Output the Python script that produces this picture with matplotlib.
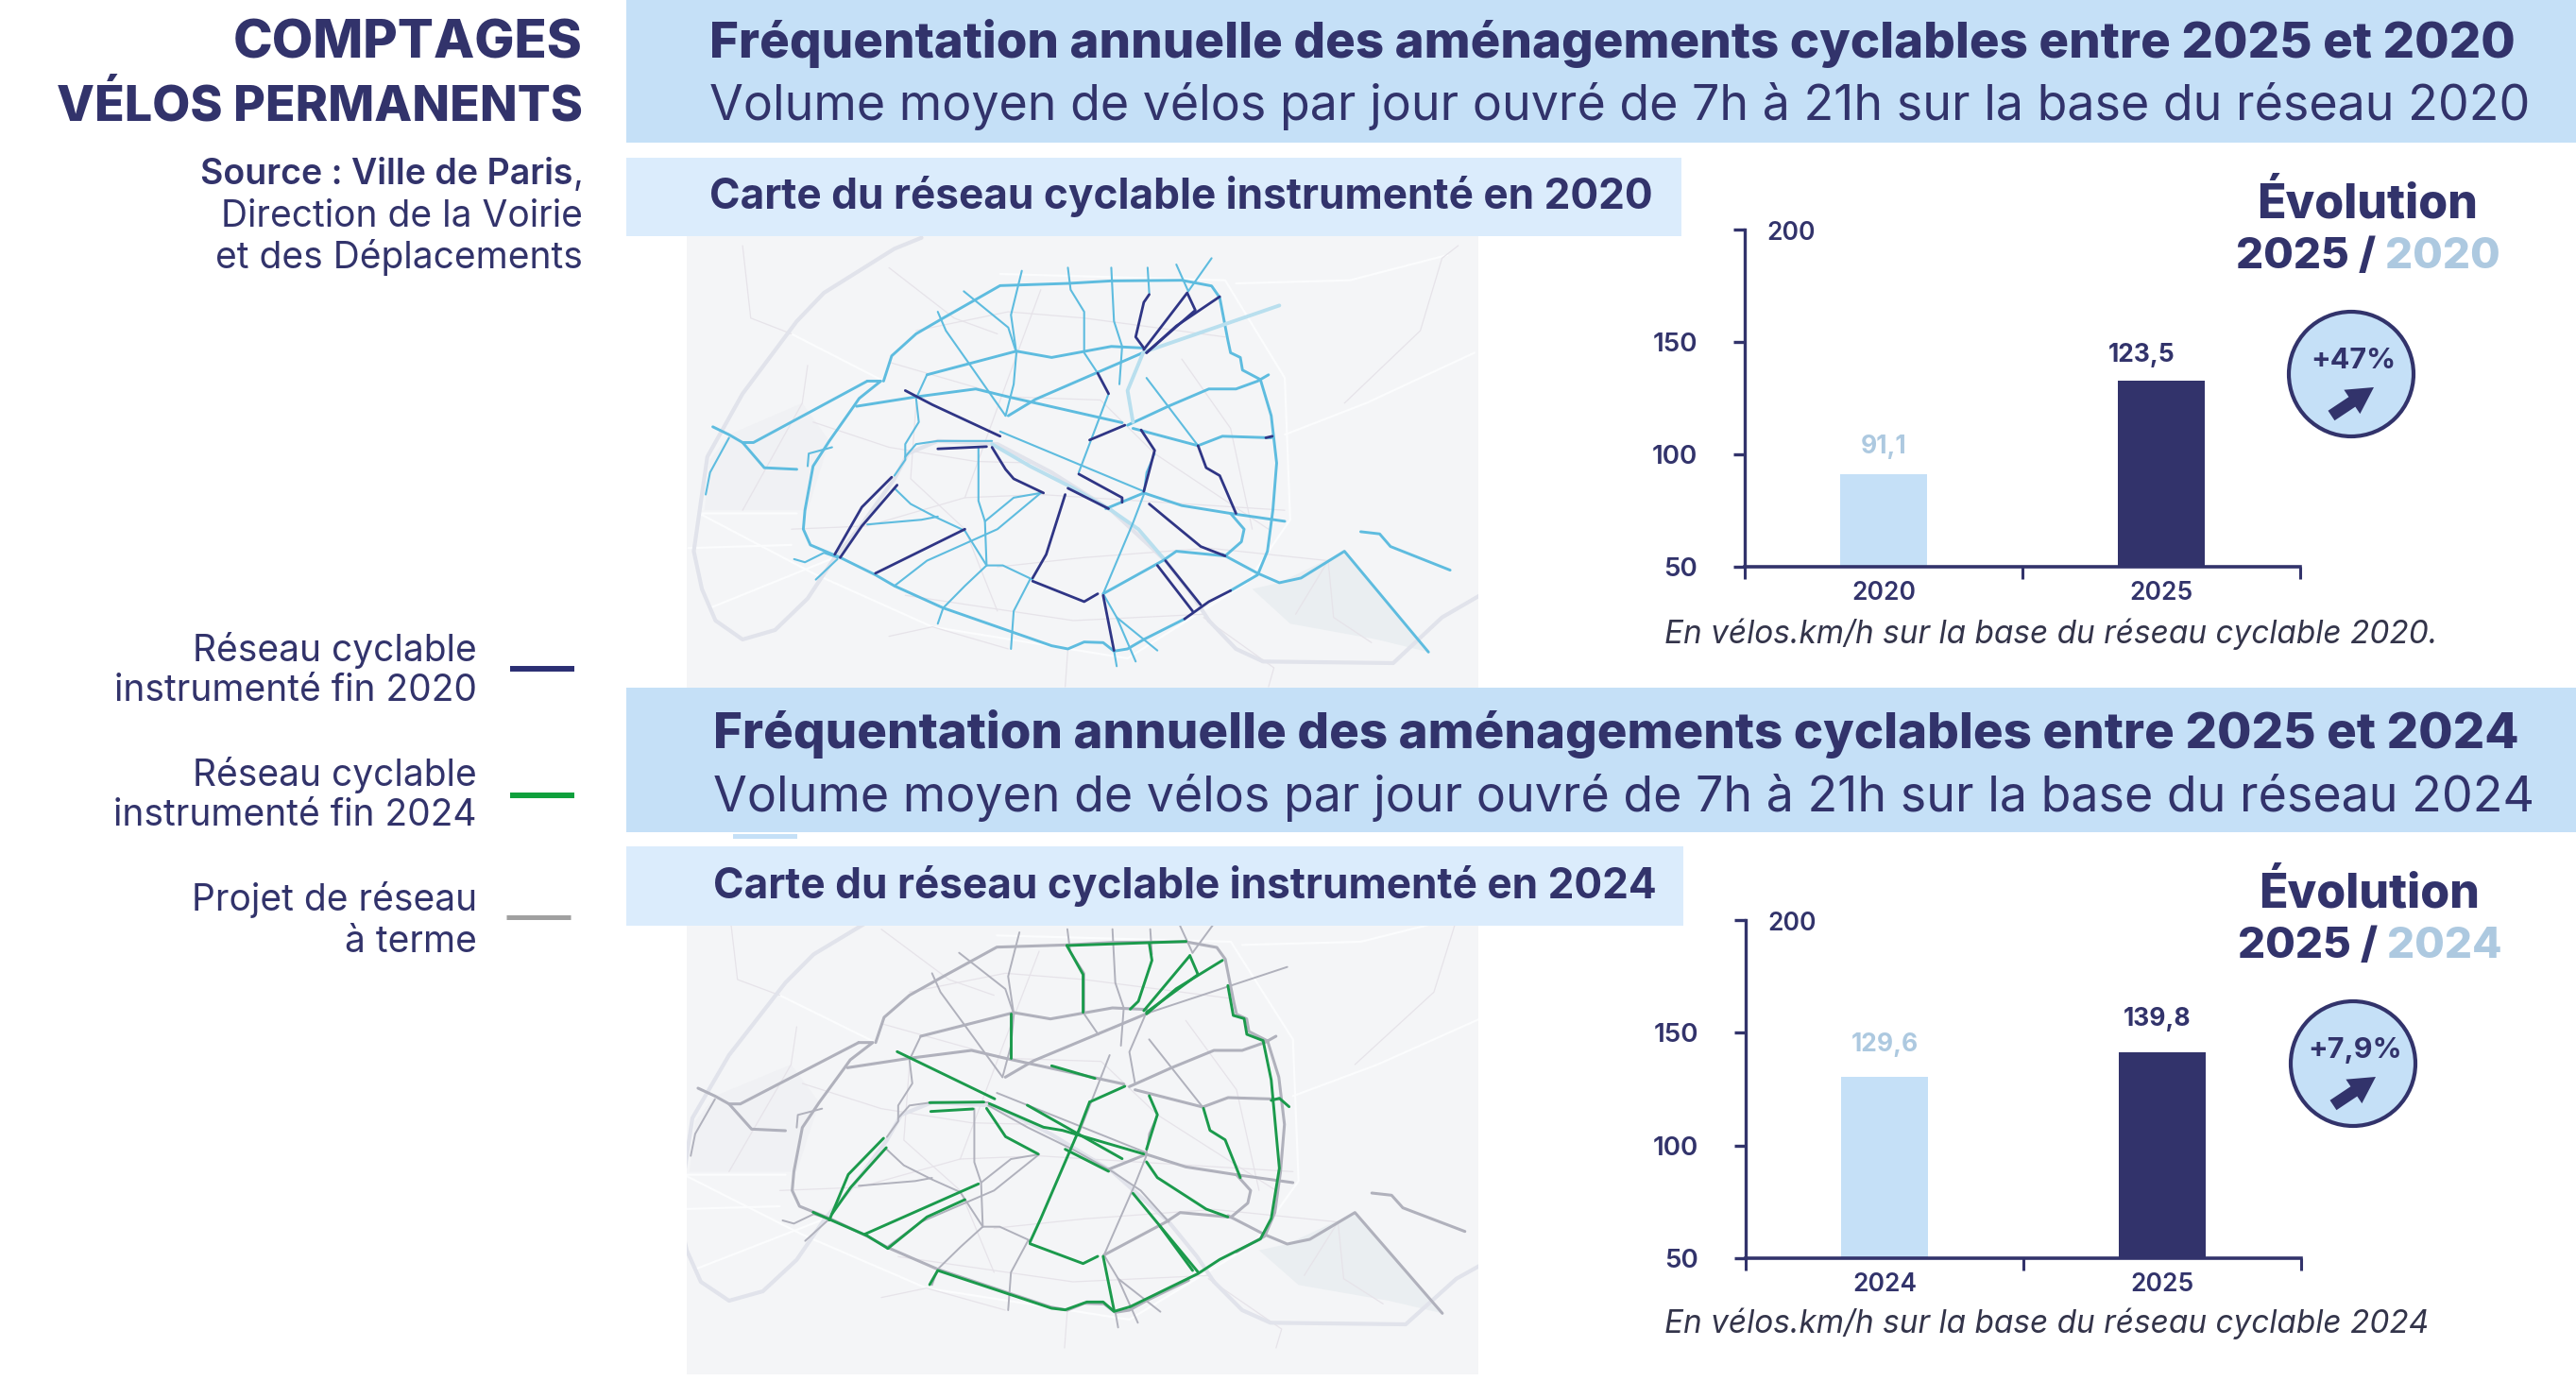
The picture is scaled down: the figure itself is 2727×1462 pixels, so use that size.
import numpy as np
import matplotlib
matplotlib.use("Agg")
import matplotlib.pyplot as plt
from matplotlib.patches import Rectangle, Circle, FancyArrowPatch, Polygon

plt.rcParams['font.family'] = ['Inter', 'DejaVu Sans']

W, H = 2727, 1462
NAVY = '#32336b'
BAND = '#c5e0f7'
BAND2 = '#dbecfc'
PALE = '#adc9e0'

# chart data
years_a = ['2020', '2025']
bars_a = [91.1, 132.8]
labels_a = ['91,1', '123,5']
years_b = ['2024', '2025']
bars_b = [130.6, 141.3]
labels_b = ['129,6', '139,8']
yticks = [50, 100, 150, 200]

light_routes = [
    [(410,490),(425,410),(470,340),(520,290),(625,187),(750,180),(830,172),(960,170),(1015,188),(1030,225),(1045,360),(1050,400),(1068,415),(1072,455),(1105,485),(1125,600),(1135,750),(1128,900),(1118,1030),(1100,1105),(1050,1155)],
    [(965,1245),(890,1310),(860,1340),(835,1347),(815,1320),(780,1318),(750,1340),(720,1330),(520,1210),(430,1140),(395,1105),(330,1050),(275,1010),(262,960),(265,900),(280,760),(310,680),(355,570),(365,545),(405,490),(380,490)],
    [(380,490),(170,685),(150,685),(125,660),(95,635)],
    [(125,670),(90,780),(82,850)],
    [(150,685),(190,765),(250,770)],
    [(270,760),(272,720),(315,700)],
    [(360,570),(470,540),(580,515),(640,540),(850,622)],
    [(490,470),(655,395),(720,415),(830,380),(890,385)],
    [(895,395),(690,548),(640,600)],
    [(895,395),(1140,250)],
    [(860,630),(935,570),(1010,515),(1060,515),(1100,490),(1120,470)],
    [(870,640),(990,695),(1035,665),(1125,670)],
    [(895,480),(990,695)],
    [(890,395),(860,520),(870,620)],
    [(665,140),(645,280),(655,400),(650,500),(635,600)],
    [(750,130),(755,200),(780,270),(780,400),(805,465)],
    [(830,130),(835,300),(850,380),(845,500)],
    [(897,130),(900,210)],
    [(950,120),(972,205)],
    [(1015,100),(972,205)],
    [(558,205),(640,320),(655,400)],
    [(510,270),(525,330),(570,440),(635,600)],
    [(490,470),(470,545),(475,620),(450,690),(450,740),(430,790)],
    [(450,730),(470,690),(510,680),(610,680)],
    [(625,650),(890,840)],
    [(610,690),(680,760),(760,830),(830,900),(880,960),(930,1060)],
    [(585,700),(585,870),(597,935),(600,1075)],
    [(430,830),(460,880),(510,925),(560,965),(600,1075)],
    [(380,945),(480,930),(510,920)],
    [(430,1140),(490,1060),(620,960),(700,845)],
    [(825,530),(770,780)],
    [(597,935),(650,860),(700,845)],
    [(820,895),(890,845),(960,885),(1050,910),(1150,935)],
    [(890,850),(870,940),(815,1165)],
    [(815,1165),(925,1060),(950,1030),(1040,1045),(1070,1000),(1075,960),(1050,910)],
    [(1035,1040),(1100,1100),(1140,1130),(1180,1115),(1260,1030),(1415,1350)],
    [(1290,968),(1325,975),(1345,1015),(1455,1090)],
    [(815,1165),(840,1240),(875,1380)],
    [(840,1240),(915,1345)],
    [(680,1120),(650,1220),(645,1340)],
    [(600,1075),(630,1075),(685,1120)],
    [(510,1260),(520,1210),(560,1140),(600,1075)],
    [(245,1055),(265,1065),(300,1035),(325,1050)],
    [(325,1055),(285,1120)],
    [(890,845),(895,780),(910,720)],
    [(835,1345),(840,1395)],
]
main_routes = [0, 1, 2, 4, 6, 7, 8, 10, 11, 32, 34, 35, 36]
pale_routes = [9, 13, 25]
dark_routes = [
    [(450,520),(500,565),(625,665)],
    [(510,705),(600,698)],
    [(610,700),(635,770),(650,800),(705,845)],
    [(770,785),(850,860),(850,875)],
    [(750,830),(825,895)],
    [(425,795),(370,890),(320,1040)],
    [(435,820),(370,950),(330,1050)],
    [(560,960),(395,1100)],
    [(745,850),(710,1040),(685,1115)],
    [(685,1125),(780,1190),(805,1165)],
    [(815,1170),(835,1345)],
    [(915,1075),(980,1220)],
    [(930,1060),(995,1200)],
    [(965,1245),(1010,1190),(1050,1155)],
    [(900,880),(935,930),(995,1015),(1040,1045)],
    [(990,695),(1005,765),(1030,790),(1060,910)],
    [(805,465),(825,530)],
    [(790,677),(855,630)],
    [(885,645),(910,710),(890,840)],
    [(900,215),(890,240),(875,350),(890,385)],
    [(890,390),(970,210),(985,265),(895,400)],
    [(1030,222),(950,315),(895,400)],
    [(1115,670),(1127,665)],
]
# green routes are in the coordinates of the 2024 map
green_routes = [
    [(748,93),(830,88),(968,80)],
    [(748,93),(778,185),(778,305)],
    [(900,85),(905,140),(880,270),(865,295)],
    [(645,310),(645,450)],
    [(975,125),(890,300)],
    [(975,125),(990,185),(895,305)],
    [(1035,140),(950,230),(895,310)],
    [(1045,220),(1055,315),(1075,325),(1080,375),(1110,395),(1125,520),(1140,800),(1125,960),(1105,1025),(1030,1090),(990,1135),(865,1240),(835,1255),(815,1225),(785,1225),(745,1250),(720,1245),(510,1125),(495,1170)],
    [(1000,610),(1012,680),(1040,710),(1068,830)],
    [(720,475),(800,515)],
    [(790,590),(855,540)],
    [(790,590),(770,680),(700,960),(680,1035)],
    [(680,1040),(778,1103),(805,1080)],
    [(815,1080),(835,1250)],
    [(435,430),(615,580)],
    [(495,592),(595,590)],
    [(497,620),(575,612)],
    [(605,595),(705,670),(740,680),(890,755)],
    [(675,600),(850,770)],
    [(600,610),(635,700),(695,755)],
    [(745,740),(825,810)],
    [(895,780),(915,830),(1005,930),(1045,955)],
    [(870,880),(990,1130)],
    [(920,985),(980,1125)],
    [(410,705),(345,820),(310,965)],
    [(415,735),(350,860),(315,945)],
    [(280,940),(380,1015),(418,1055)],
    [(585,850),(375,1010)],
    [(560,900),(490,955),(418,1055)],
    [(1125,585),(1140,578),(1158,605)],
    [(900,570),(915,630),(895,740)],
]
seine_route = [(1010,1250),(980,1170),(930,1060),(830,900),(720,780),(620,690),(510,680),(455,720),(430,800),(370,945),(320,1050),(270,1180),(210,1280),(150,1310),(100,1250),(75,1150),(60,1030),(85,730),(150,530),(250,300),(300,210),(430,70),(480,35)]
seine_east = [(1010,1250),(1060,1340),(1110,1380),(1350,1385),(1440,1240),(1510,1170)]
white_roads = [
    [(625,150),(1040,170),(1150,480),(1160,930),(1080,1130),(860,1370),(500,1270),(280,1100),(70,910),(250,910)],
    [(1150,660),(1300,560),(1500,400)],
    [(1060,180),(1270,170),(1450,90)],
    [(50,1020),(240,1010)],
    [(240,340),(410,490)],
    [(90,1210),(320,1050)],
]
faint_roads = [
    [(420,430),(640,540),(810,550),(910,720),(1120,960)],
    [(470,330),(640,270),(780,290),(1040,350)],
    [(240,960),(380,950),(560,860),(700,850),(1150,900)],
    [(450,1170),(760,1250),(1000,1230)],
    [(270,440),(260,560),(150,900)],
    [(620,1080),(780,1050),(1010,1020),(1230,1060),(1170,1230)],
    [(470,560),(460,800),(560,960),(620,1220)],
    [(700,200),(640,480),(560,860)],
    [(960,420),(1050,640),(1090,960)],
    [(1230,1060),(1240,1240),(1310,1320)],
    [(280,620),(420,700),(580,745),(690,750)],
    [(750,1340),(745,1460)],
    [(420,1300),(500,1270),(640,1340)],
    [(1000,1240),(1130,1400),(1120,1460)],
    [(420,130),(540,290),(620,340)],
    [(150,60),(165,290),(240,340)],
    [(1470,60),(1440,100),(1400,330),(1260,560)],
]
boulogne_park = [(125,660),(260,560),(310,680),(270,900),(80,900),(90,740)]
vincennes_park = [(1140,1130),(1260,1030),(1415,1350),(1320,1310),(1160,1260),(1090,1150)]


def px_axes(fig, left, top, right, bottom, zorder=1):
    return fig.add_axes([left / W, 1 - bottom / H, (right - left) / W, (bottom - top) / H], zorder=zorder)


def to_2024(route):
    # same network on the second map: a bit wider, shifted up
    return [(775 + (x - 775) * 1.04, y - 89) for x, y in route]


def draw_route(ax, route, color, lw, alpha=1.0):
    xs = [p[0] for p in route]
    ys = [p[1] for p in route]
    ax.plot(xs, ys, color=color, lw=lw, alpha=alpha, solid_capstyle='round', solid_joinstyle='round')


def base_map(ax, conv, ymax):
    ax.set_xlim(47, 1507)
    ax.set_ylim(ymax, 30)
    ax.set_facecolor('#f4f5f7')
    ax.set_xticks([])
    ax.set_yticks([])
    for s in ax.spines.values():
        s.set_visible(False)
    ax.add_patch(Polygon(conv(boulogne_park), color='#f0f1f4', lw=0))
    ax.add_patch(Polygon(conv(vincennes_park), color='#eaeef1', lw=0))
    for r in white_roads:
        draw_route(ax, conv(r), '#fbfcfd', 1.6)
    for r in faint_roads:
        draw_route(ax, conv(r), '#e6e3e9', 0.9)
    draw_route(ax, conv(seine_route), '#e1e3eb', 3)
    draw_route(ax, conv(seine_east), '#e1e3eb', 3)


def bar_chart(fig, left, top, right, bottom, years, bars, labels, label_shift, label_gap):
    ax = px_axes(fig, left, top, right, bottom, zorder=3)
    ax.patch.set_alpha(0)
    x = [0.5, 1.5]
    ax.bar(x, bars, bottom=0, width=0.316, color=[BAND, NAVY], zorder=2)
    ax.set_xlim(0, 2)
    ax.set_ylim(50, 200)
    ax.spines['top'].set_visible(False)
    ax.spines['right'].set_visible(False)
    ax.spines['left'].set_color(NAVY)
    ax.spines['bottom'].set_color(NAVY)
    ax.spines['left'].set_linewidth(2.4)
    ax.spines['bottom'].set_linewidth(2.6)
    ax.set_xticks([0, 1, 2], ['', '', ''])
    ax.set_xticks(x, years, minor=True)
    ax.set_yticks(yticks, ['50', '100', '150', ''])
    ax.tick_params(axis='x', which='major', length=9, width=2.2, color=NAVY, direction='out')
    ax.tick_params(axis='x', which='minor', length=0, pad=11, labelsize=19, labelcolor=NAVY)
    ax.tick_params(axis='y', length=9, width=2.4, color=NAVY, pad=27, labelsize=20, labelcolor=NAVY)
    for lab in ax.get_xticklabels(minor=True):
        lab.set_fontweight('semibold')
    for lab in ax.get_yticklabels():
        lab.set_fontweight('semibold')
    ax.annotate('200', xy=(0, 200), xycoords=('axes fraction', 'data'), xytext=(17, -3),
                textcoords='offset points', va='center', ha='left', fontsize=19, color=NAVY, fontweight='semibold')
    for xi, b, lab, col, sh, gap in zip(x, bars, labels, [PALE, NAVY], label_shift, label_gap):
        ax.annotate(lab, xy=(xi, b), xytext=(sh, gap), textcoords='offset points', ha='center', va='bottom',
                    fontsize=19, color=col, fontweight='bold')
    return ax


fig = plt.figure(figsize=(W / 100, H / 100), dpi=100, facecolor='white')
page = fig.add_axes([0, 0, 1, 1], zorder=5)
page.set_xlim(0, W)
page.set_ylim(H, 0)
page.axis('off')
page.patch.set_alpha(0)

# maps
map_a = px_axes(fig, 727, 250, 1565, 728, zorder=1)
base_map(map_a, lambda r: r, 1463)
for i, r in enumerate(light_routes):
    if i in pale_routes:
        draw_route(map_a, r, '#b9dfee', 2.8)
    else:
        draw_route(map_a, r, '#5ebcdf', 2.1 if i in main_routes else 1.5)
for r in dark_routes:
    draw_route(map_a, r, '#2f3585', 2.0)

map_b = px_axes(fig, 727, 980, 1565, 1455, zorder=1)
base_map(map_b, to_2024, 1455)
for i, r in enumerate(light_routes):
    draw_route(map_b, to_2024(r), '#b0b1bc', 2.2 if i in main_routes else 1.4)
for r in green_routes:
    draw_route(map_b, r, '#1b9a4c', 2.1)

# bands
for y0, y1 in [(0, 151), (728, 881)]:
    page.add_patch(Rectangle((663, y0), W - 663, y1 - y0, color=BAND, lw=0))
page.add_patch(Rectangle((663, 167), 1117, 83, color=BAND2, lw=0))
page.add_patch(Rectangle((663, 896), 1119, 84, color=BAND2, lw=0))
page.add_patch(Rectangle((776, 883), 68, 5, color=BAND, lw=0))

# left column
page.text(617, 46, 'COMPTAGES', ha='right', va='center', fontsize=40.5, fontweight='heavy', color=NAVY)
page.text(617, 113, 'VÉLOS PERMANENTS', ha='right', va='center', fontsize=37.4, fontweight='heavy', color=NAVY)
src = page.text(617, 185, ',', ha='right', va='center', fontsize=27, color=NAVY)
page.annotate('Source : Ville de Paris', xy=(0, 0.5), xycoords=src, ha='right', va='center', fontsize=27,
              fontweight='semibold', color=NAVY)
page.text(617, 230, 'Direction de la Voirie', ha='right', va='center', fontsize=28, color=NAVY)
page.text(617, 273, 'et des Déplacements', ha='right', va='center', fontsize=28, color=NAVY)

# legend
legend_text = [('Réseau cyclable', 689), ('instrumenté fin 2020', 732), ('Réseau cyclable', 820),
               ('instrumenté fin 2024', 864), ('Projet de réseau', 952), ('à terme', 997)]
for txt, y in legend_text:
    page.text(505, y, txt, ha='right', va='center', fontsize=28, color=NAVY)
page.plot([540, 608], [708, 708], color='#2b2f73', lw=4.3, solid_capstyle='butt')
page.plot([540, 608], [842, 842], color='#0fa03c', lw=4.3, solid_capstyle='butt')
page.plot([536, 604], [971, 971], color='#a0a0a0', lw=3.6, solid_capstyle='butt')

# headers
page.text(751, 46, 'Fréquentation annuelle des aménagements cyclables entre 2025 et 2020',
          va='center', fontsize=38, fontweight='heavy', color=NAVY)
page.text(751, 113, 'Volume moyen de vélos par jour ouvré de 7h à 21h sur la base du réseau 2020',
          va='center', fontsize=37.4, color=NAVY)
page.text(755, 777, 'Fréquentation annuelle des aménagements cyclables entre 2025 et 2024',
          va='center', fontsize=38, fontweight='heavy', color=NAVY)
page.text(755, 844, 'Volume moyen de vélos par jour ouvré de 7h à 21h sur la base du réseau 2024',
          va='center', fontsize=37.4, color=NAVY)
page.text(751, 208, 'Carte du réseau cyclable instrumenté en 2020', va='center', fontsize=31.8,
          fontweight='bold', color=NAVY)
page.text(755, 938, 'Carte du réseau cyclable instrumenté en 2024', va='center', fontsize=31.8,
          fontweight='bold', color=NAVY)

# bar charts
bar_chart(fig, 1847, 243, 2435, 600, years_a, bars_a, labels_a, [0, -15], [12, 10])
bar_chart(fig, 1848, 974, 2436, 1332, years_b, bars_b, labels_b, [0, -4], [15, 16])

page.text(1762, 671, 'En vélos.km/h sur la base du réseau cyclable 2020.', va='center', fontsize=24,
          fontstyle='italic', color='#33344a')
page.text(1762, 1401, 'En vélos.km/h sur la base du réseau cyclable 2024', va='center', fontsize=24,
          fontstyle='italic', color='#33344a')

# evolution blocks
for cx, y1, y2, yr, circ_y, pct in [(2506, 216, 272, '2020', 396, '+47%'), (2508, 946, 1002, '2024', 1126, '+7,9%')]:
    page.text(cx, y1, 'Évolution', ha='center', va='center', fontsize=36, fontweight='heavy', color=NAVY)
    a = page.text(cx - 139, y2, '2025 /', ha='left', va='center', fontsize=33, fontweight='heavy', color=NAVY)
    page.annotate(' ' + yr, xy=(1, 0.5), xycoords=a, va='center', ha='left', fontsize=33, fontweight='heavy', color=PALE)
    page.add_patch(Circle((cx - 17, circ_y), 66, facecolor=BAND, edgecolor=NAVY, lw=3))
    page.text(cx - 15, circ_y - 14, pct, ha='center', va='center', fontsize=22, fontweight='bold', color=NAVY)
    page.add_patch(FancyArrowPatch((cx - 38, circ_y + 44), (cx + 7, circ_y + 14), arrowstyle='simple,head_width=22,head_length=20,tail_width=9',
                                   color=NAVY, lw=0, mutation_scale=1, shrinkA=0, shrinkB=0))

fig.savefig('out.png', dpi=100)
